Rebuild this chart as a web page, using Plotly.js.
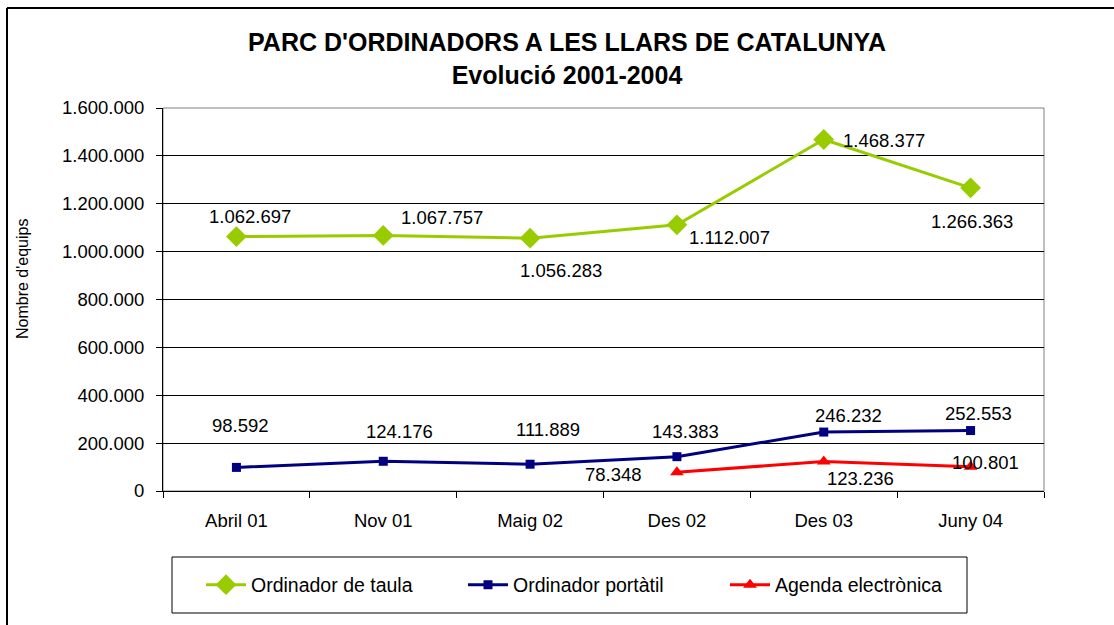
<!DOCTYPE html>
<html>
<head>
<meta charset="utf-8">
<script src="https://cdn.plot.ly/plotly-3.0.1.min.js"></script>
<style>html,body{margin:0;padding:0;background:#fff;}#chart{width:1114px;height:625px;}</style>
</head>
<body>
<div id="chart"></div>
<script>
var categories = ['Abril 01', 'Nov 01', 'Maig 02', 'Des 02', 'Des 03', 'Juny 04'];
var taula = [1062697, 1067757, 1056283, 1112007, 1468377, 1266363];
var portatil = [98592, 124176, 111889, 143383, 246232, 252553];
var agenda = [null, null, null, 78348, 123236, 100801];
var seriesNames = ['Ordinador de taula', 'Ordinador portàtil', 'Agenda electrònica'];
var yTickVals = [0, 200000, 400000, 600000, 800000, 1000000, 1200000, 1400000, 1600000];
var yTickText = ['0', '200.000', '400.000', '600.000', '800.000', '1.000.000', '1.200.000', '1.400.000', '1.600.000'];
var yTitle = "Nombre d'equips";
var chartTitle = "<b>PARC D'ORDINADORS A LES LLARS DE CATALUNYA</b><br><b>Evolució 2001-2004</b>";

// label offsets (px) per point
var taulaShift = [[14,-20],[59,-18],[31,32],[53,13],[60,1],[1,34]];
var portatilShift = [[4,-42],[16,-30],[18,-35],[9,-25],[25,-17],[8,-17]];
var agendaShift = [null,null,null,[-63,2],[37,17],[15,-4]];

function fmt(v){ return String(v).replace(/\B(?=(\d{3})+(?!\d))/g, '.'); }

var font = 'Liberation Sans, Arial, sans-serif';
var fs = 18.5;
var annotations = [];
function addLabels(vals, shifts){
  vals.forEach(function(v,i){
    if (v === null) return;
    annotations.push({x: categories[i], y: v, xref:'x', yref:'y', text: fmt(v), showarrow:false,
      xshift: shifts[i][0], yshift: -shifts[i][1], font:{family:font, size:fs, color:'#000'}});
  });
}
addLabels(taula, taulaShift);
addLabels(portatil, portatilShift);
addLabels(agenda, agendaShift);

var L=163, R=1044, T=108, B=491, W=1114, H=625;
function px(x){ return (x-L)/(R-L); }
function py(y){ return (B-y)/(B-T); }

annotations.push({x: px(22), y: py(279), xref:'paper', yref:'paper', text: yTitle, textangle: -90,
  showarrow:false, xanchor:'center', yanchor:'middle', font:{family:font, size:16, color:'#000'}});

var shapes = [
  {type:'rect', xref:'paper', yref:'paper', x0:0, x1:1, y0:0, y1:1, line:{color:'#808080', width:1}, layer:'below'},
  {type:'line', xref:'paper', yref:'paper', x0:px(7), x1:px(1114), y0:py(8), y1:py(8), line:{color:'#000', width:2}},
  {type:'line', xref:'paper', yref:'paper', x0:px(7), x1:px(7), y0:py(8), y1:py(625), line:{color:'#000', width:2}},
  {type:'rect', xref:'paper', yref:'paper', x0:px(172), x1:px(967), y0:py(613), y1:py(557), line:{color:'#000', width:1}}
];

var traces = [
  {x: categories, y: taula, name: seriesNames[0], mode:'lines+markers', type:'scatter',
   line:{color:'#99CC00', width:3}, marker:{symbol:'diamond', size:16, color:'#99CC00'}},
  {x: categories, y: portatil, name: seriesNames[1], mode:'lines+markers', type:'scatter',
   line:{color:'#000080', width:3}, marker:{symbol:'square', size:9, color:'#000080'}},
  {x: categories, y: agenda, name: seriesNames[2], mode:'lines+markers', type:'scatter',
   line:{color:'#FF0000', width:3}, marker:{symbol:'triangle-up', size:12, color:'#FF0000'}}
];

var layout = {
  width: W, height: H,
  margin: {l: L, r: W-R, t: T, b: H-B, pad: 0},
  paper_bgcolor: '#fff', plot_bgcolor: '#fff',
  font: {family: font, size: fs, color: '#000'},
  separators: ',.',
  title: {text: chartTitle,
    font: {family: font, size: 25, color: '#000'}, x: 567/W, xref: 'container', xanchor: 'center',
    y: 1-51/H, yref: 'container', yanchor: 'top'},
  xaxis: {type: 'category', range: [-0.5, 5.5], tickson: 'boundaries', ticks: 'outside', ticklen: 6,
    tickcolor: '#000', showline: true, linecolor: '#000', linewidth: 1, showgrid: false, zeroline: false,
    tickfont: {family: font, size: fs, color: '#000'}, ticklabelstandoff: 13, fixedrange: true},
  yaxis: {range: [0, 1600000], tickvals: yTickVals, ticktext: yTickText, ticks: 'outside', ticklen: 6,
    tickcolor: '#000', showline: true, linecolor: '#000', linewidth: 1, showgrid: true, gridcolor: '#000',
    gridwidth: 1, zeroline: false, tickfont: {family: font, size: fs, color: '#000'}, ticklabelstandoff: 8,
    fixedrange: true},
  showlegend: true,
  legend: {orientation: 'h', x: px(201), xanchor: 'left', y: py(585), yanchor: 'middle',
    font: {family: font, size: 19.5, color: '#000'}, bgcolor: 'rgba(0,0,0,0)', borderwidth: 0,
    traceorder: 'normal', itemwidth: 40, entrywidth: 207},
  annotations: annotations,
  shapes: shapes
};

Plotly.newPlot('chart', traces, layout, {displayModeBar: false, staticPlot: true});
</script>
</body>
</html>
